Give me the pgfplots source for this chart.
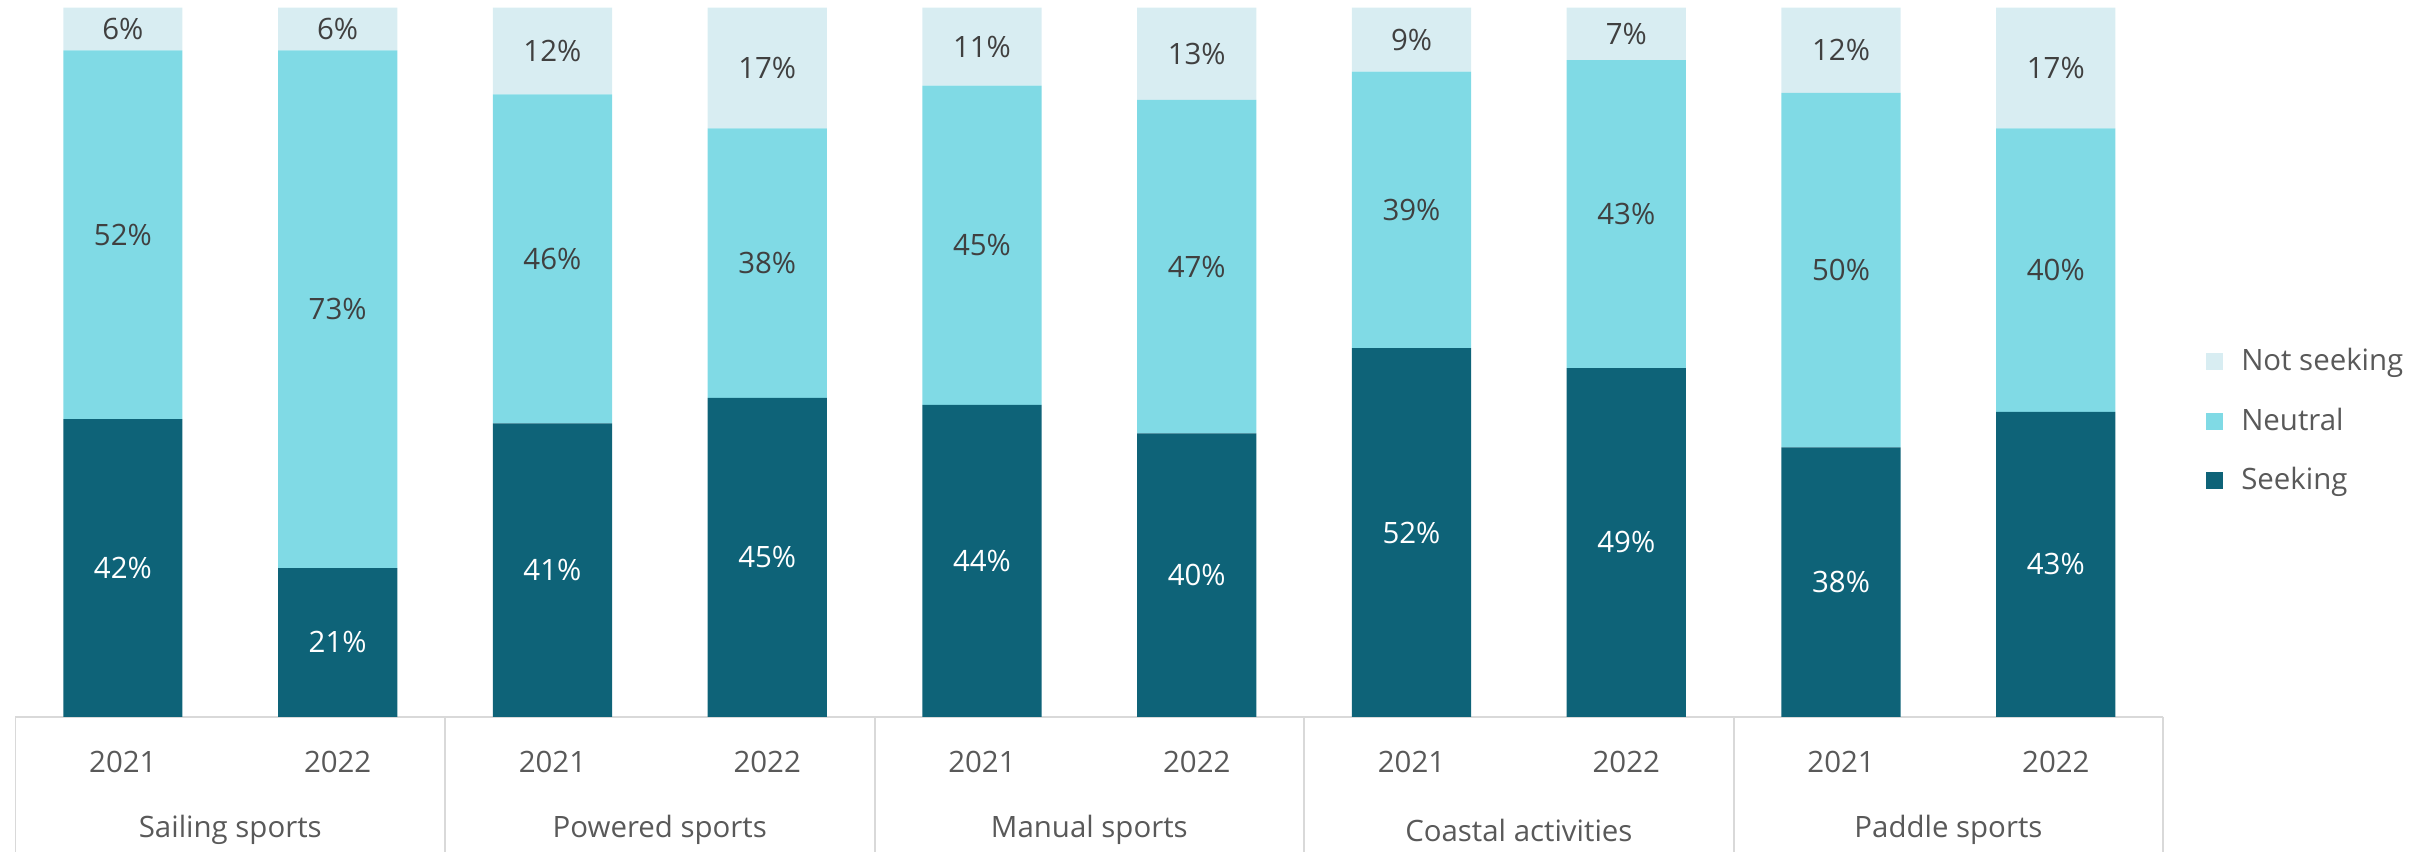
\documentclass[border=0pt]{standalone}
\usepackage{pgfplots}
\usepackage{pgfplotstable}
\pgfplotsset{compat=1.18}
\usepackage{fontspec}
\setmainfont{Open Sans}
\definecolor{seekc}{HTML}{0E6378}
\definecolor{neutc}{HTML}{80DAE5}
\definecolor{notsc}{HTML}{D8EDF2}
\definecolor{lbl}{HTML}{404040}
\definecolor{tickc}{HTML}{595959}
\definecolor{gridc}{HTML}{D9D9D9}
\pgfplotstableread{
x seek neut nots
0 42 52 6
1 21 73 6
2 41.4 46.4 12.2
3 45 38 17
4 44 45 11
5 40 47 13
6 52 39 9
7 49.2 43.4 7.4
8 38 50 12
9 43 40 17
}\data
\pgfplotsset{
  base/.style={scale only axis, width=693.5pt, height=229pt, xmin=-0.5, xmax=9.5, ymin=0, ymax=100, clip=false},
  lab/.style={draw=none, mark=none, nodes near coords={\pgfmathprintnumber[fixed,precision=0,assume math mode=true]{\pgfplotspointmeta}\%}, point meta=explicit,
     every node near coord/.append style={anchor=center, yshift=0pt, font=\fontsize{9.5}{11}\selectfont, text=#1}},
}
\begin{document}
\begin{tikzpicture}[font=\fontsize{9.5}{11}\selectfont]
\begin{axis}[base, name=ax, ybar stacked, bar width=38.5pt,
  axis line style={draw=none}, major tick length=0pt, ytick=\empty,
  xtick={0,...,9}, xticklabels={2021,2022,2021,2022,2021,2022,2021,2022,2021,2022},
  xticklabel style={anchor=center, yshift=-14.5pt, text=tickc},
  legend style={at={(axis description cs:1,0.417)}, anchor=west, xshift=10.5pt, draw=none, fill=none, text=tickc, row sep=6.5pt, legend cell align=left},
  reverse legend,
  legend image code/.code={\fill (0pt,-2.75pt) rectangle (5.5pt,2.75pt); \path (9.5pt,0pt);},
]
\addplot[fill=seekc, draw=none] table[x=x,y=seek]{\data};
\addplot[fill=neutc, draw=none] table[x=x,y=neut]{\data};
\addplot[fill=notsc, draw=none] table[x=x,y=nots]{\data};
\legend{Seeking, Neutral, Not seeking}
\draw[gridc, line width=0.6pt] (axis cs:-0.5,0) -- (axis cs:9.5,0);
\pgfplotsinvokeforeach{-0.5,1.5,3.5,5.5,7.5,9.5}{\draw[gridc, line width=0.6pt] (axis cs:#1,0) -- ++(0pt,-44pt);}
\node[text=tickc, yshift=-36.5pt] at (axis cs:0.5,0) {Sailing sports};
\node[text=tickc, yshift=-36.5pt] at (axis cs:2.5,0) {Powered sports};
\node[text=tickc, yshift=-36.5pt] at (axis cs:4.5,0) {Manual sports};
\node[text=tickc, yshift=-36.5pt] at (axis cs:6.5,0) {Coastal activities};
\node[text=tickc, yshift=-36.5pt] at (axis cs:8.5,0) {Paddle sports};
\end{axis}
\begin{axis}[base, hide axis]
\addplot[lab=white] table[x=x, y expr=\thisrow{seek}/2, meta=seek]{\data};
\addplot[lab=lbl] table[x=x, y expr=\thisrow{seek}+\thisrow{neut}/2, meta=neut]{\data};
\addplot[lab=lbl] table[x=x, y expr=\thisrow{seek}+\thisrow{neut}+\thisrow{nots}/2, meta=nots]{\data};
\end{axis}
\pgfresetboundingbox
\useasboundingbox (ax.south west) ++(-5pt,-43.5pt) rectangle ++(784pt,275pt);
\end{tikzpicture}
\end{document}
